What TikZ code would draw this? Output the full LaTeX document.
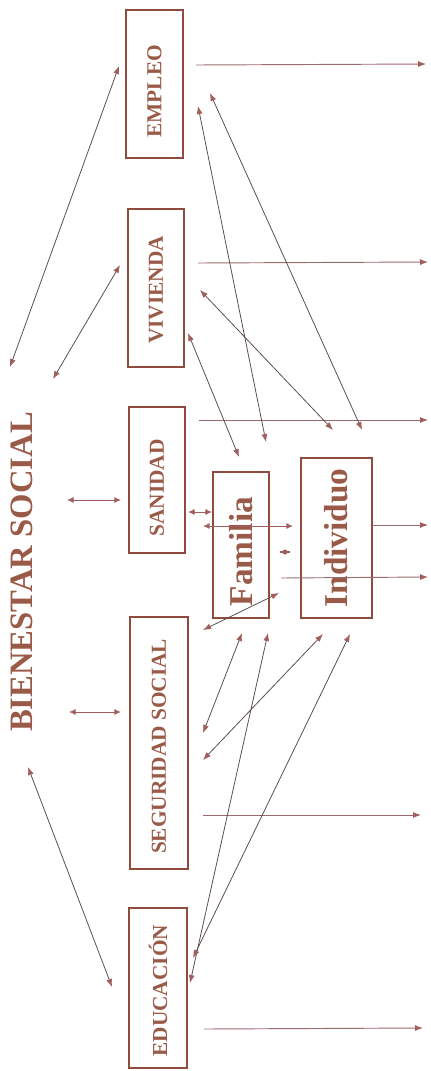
\documentclass[tikz,border=0pt]{standalone}
\usepackage{fontspec}
\setmainfont{Liberation Serif}
\usetikzlibrary{arrows.meta}
\definecolor{boxc}{HTML}{8E4B3E}
\definecolor{txtc}{HTML}{9A5A48}
\definecolor{linec}{HTML}{5E4E4E}
\definecolor{outc}{HTML}{9A6A6E}
\definecolor{headc}{HTML}{A05E5E}
\tikzset{
  box/.style={draw=boxc, line width=1.8pt, rotate=90, inner sep=0pt, text=txtc,
    font=\bfseries\fontsize{16}{16}\selectfont},
  bigbox/.style={box, font=\bfseries\fontsize{25}{25}\selectfont},
  conn/.style={draw=linec, line width=0.6pt, {Latex[length=6pt,width=4.5pt,color=headc]}-{Latex[length=6pt,width=4.5pt,color=headc]}},
  shortconn/.style={draw=headc, line width=0.7pt, {Latex[length=5pt,width=4.5pt,color=headc]}-{Latex[length=5pt,width=4.5pt,color=headc]}},
  outarrow/.style={draw=outc, line width=0.7pt, -{Latex[length=6pt,width=4.5pt,color=headc]}},
  title/.style={rotate=90, text=txtc, font=\bfseries\fontsize{24.5}{24.5}\selectfont}
}
\begin{document}
\begin{tikzpicture}[x=0.75pt,y=-0.75pt]
\useasboundingbox (0,0) rectangle (431,1071);

% boxes
\node[box, minimum width=111pt, minimum height=42.75pt] (emp) at (154.5,84) {EMPLEO\hspace*{11pt}};
\node[box, minimum width=118.5pt, minimum height=42pt] (viv) at (156,288) {VIVIENDA\hspace*{3pt}};
\node[box, minimum width=109.5pt, minimum height=42pt] (san) at (157,480) {SANIDAD\hspace*{12pt}};
\node[box, minimum width=189pt, minimum height=43.5pt] (seg) at (159,743) {SEGURIDAD SOCIAL\hspace*{5pt}};
\node[box, minimum width=120pt, minimum height=43.5pt] (edu) at (158,988) {EDUCACIÓN\hspace*{4pt}};
\node[bigbox, minimum width=109.5pt, minimum height=42pt] (fam) at (241,545) {Familia\hspace*{10pt}};
\node[bigbox, minimum width=120pt, minimum height=53.25pt] (ind) at (336.5,538) {Individuo};

\node[title] (bs) at (22,572) {BIENESTAR SOCIAL};

% endpoints
\coordinate (o1a) at (196,65);  \coordinate (o1b) at (426,64);
\coordinate (o2a) at (198,263); \coordinate (o2b) at (428,262);
\coordinate (o3a) at (199,420); \coordinate (o3b) at (428,420);
\coordinate (o4a) at (372,525); \coordinate (o4b) at (428,525);
\coordinate (o5a) at (281,578); \coordinate (o5b) at (428,577);
\coordinate (o6a) at (203,815); \coordinate (o6b) at (421,815);
\coordinate (o7a) at (204,1029); \coordinate (o7b) at (423,1028);

\coordinate (l1a) at (10,367);  \coordinate (l1b) at (119,66);
\coordinate (l2a) at (53,379);  \coordinate (l2b) at (120,265);
\coordinate (l3a) at (67,500);  \coordinate (l3b) at (121,500);
\coordinate (l4a) at (69,712);  \coordinate (l4b) at (121,712);
\coordinate (l5a) at (28,767);  \coordinate (l5b) at (112,987);

\coordinate (c1a) at (210,93);  \coordinate (c1b) at (362,430);
\coordinate (c2a) at (198,106); \coordinate (c2b) at (266,442);
\coordinate (c3a) at (200,290); \coordinate (c3b) at (333,430);
\coordinate (c4a) at (188,333); \coordinate (c4b) at (239,457);
\coordinate (c5a) at (188,512); \coordinate (c5b) at (212,512);
\coordinate (c6a) at (203,526); \coordinate (c6b) at (293,526);
\coordinate (c7a) at (203,630); \coordinate (c7b) at (279,593);
\coordinate (c8a) at (242,633); \coordinate (c8b) at (203,733);
\coordinate (c9a) at (323,634); \coordinate (c9b) at (203,760);
\coordinate (c10a) at (268,633); \coordinate (c10b) at (190,983);
\coordinate (c11a) at (350,634); \coordinate (c11b) at (193,958);
\coordinate (mk) at (285,552);

% outputs
\foreach \i in {1,...,7} \draw[outarrow] (o\i a) -- (o\i b);

% links to title
\draw[conn] (l1a) -- (l1b);
\draw[conn] (l2a) -- (l2b);
\draw[shortconn] (l3a) -- (l3b);
\draw[shortconn] (l4a) -- (l4b);
\draw[conn] (l5a) -- (l5b);

% cross links
\foreach \i in {1,2,3,4,7,8,9,10,11} \draw[conn] (c\i a) -- (c\i b);
\draw[shortconn] (c5a) -- (c5b);
\draw[shortconn] (c6a) -- (c6b);
\fill[headc] (mk) circle (2.5);
\draw[headc, line width=0.8pt] ([xshift=-4]mk) -- ([xshift=4]mk);
\end{tikzpicture}
\end{document}
